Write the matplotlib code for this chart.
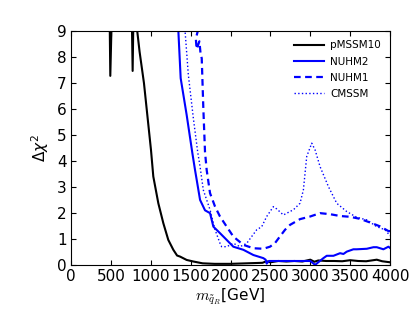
import matplotlib
matplotlib.use("Agg")
import matplotlib.pyplot as plt

# pMSSM10 (black solid)
pmssm10_m = [450, 476, 493, 530, 750, 773, 794, 823, 860, 915, 1003, 1032, 1095, 1158, 1220,
             1283, 1330, 1367, 1450, 1534, 1650, 1800, 2000, 2200, 2400, 2450, 2500, 2600,
             2700, 2800, 2900, 3000, 3050, 3100, 3200, 3300, 3400, 3500, 3600, 3700, 3833,
             3900, 4000]
pmssm10_chi2 = [12, 12, 7.27, 12, 12, 7.46, 12, 9.2, 8.2, 6.99, 4.42, 3.4, 2.37, 1.6, 0.96,
                0.58, 0.36, 0.32, 0.19, 0.13, 0.06, 0.04, 0.04, 0.06, 0.08, 0.14, 0.1, 0.15,
                0.13, 0.15, 0.13, 0.2, 0.12, 0.17, 0.15, 0.15, 0.14, 0.18, 0.15, 0.14, 0.2,
                0.14, 0.1]

# NUHM2 (blue solid)
nuhm2_m = [1340, 1346, 1375, 1450, 1522, 1555, 1576, 1618, 1680, 1743, 1785, 1868, 1952,
           2035, 2161, 2286, 2411, 2440, 2453, 2480, 2600, 2800, 3000, 3040, 3060, 3100,
           3164, 3206, 3290, 3373, 3415, 3457, 3540, 3582, 3708, 3791, 3833, 3916, 3979, 4000]
nuhm2_chi2 = [9.5, 9.0, 7.18, 5.77, 4.29, 3.65, 3.27, 2.5, 2.1, 1.99, 1.47, 1.22, 0.96,
              0.7, 0.58, 0.38, 0.26, 0.2, 0.05, 0.15, 0.15, 0.15, 0.15, 0.05, 0.0, 0.1,
              0.26, 0.35, 0.35, 0.45, 0.42, 0.51, 0.6, 0.6, 0.62, 0.68, 0.68, 0.6, 0.7, 0.65]

# NUHM1 (blue dashed)
nuhm1_m = [1600, 1590, 1565, 1575, 1610, 1625, 1639, 1659, 1680, 1701, 1743, 1806, 1868,
           1952, 2035, 2161, 2286, 2411, 2495, 2560, 2621, 2683, 2746, 2871, 2997, 3122,
           3248, 3373, 3498, 3624, 3749, 3875, 3979, 4000]
nuhm1_chi2 = [9.5, 9.0, 8.7, 8.3, 8.6, 8.1, 7.95, 6.03, 4.35, 3.65, 2.76, 2.24, 1.86,
              1.47, 1.09, 0.77, 0.64, 0.62, 0.7, 0.85, 1.1, 1.35, 1.54, 1.76, 1.86, 1.99,
              1.95, 1.88, 1.85, 1.77, 1.63, 1.48, 1.3, 1.3]

# CMSSM (blue dotted)
cmssm_m = [1425, 1430, 1471, 1534, 1588, 1618, 1659, 1743, 1806, 1868, 1889, 1952, 2035,
           2119, 2203, 2265, 2328, 2391, 2453, 2537, 2580, 2662, 2788, 2871, 2913, 2955,
           3018, 3060, 3122, 3227, 3331, 3457, 3582, 3708, 3833, 3937, 4000]
cmssm_chi2 = [9.5, 9.0, 7.31, 5.64, 4.35, 3.78, 2.88, 2.12, 1.35, 0.83, 0.7, 0.7, 0.83,
              0.7, 0.83, 1.09, 1.35, 1.47, 1.86, 2.24, 2.15, 1.92, 2.12, 2.37, 2.88, 4.17,
              4.68, 4.42, 3.78, 3.01, 2.37, 2.05, 1.83, 1.73, 1.47, 1.35, 1.12]

labels = ["pMSSM10", "NUHM2", "NUHM1", "CMSSM"]

plt.rcParams.update({
    "font.family": "DejaVu Sans",
    "xtick.direction": "in",
    "ytick.direction": "in",
    "xtick.top": True,
    "ytick.right": True,
    "xtick.major.size": 3.5,
    "ytick.major.size": 3.5,
    "xtick.major.pad": 3,
    "ytick.major.pad": 3,
})

fig = plt.figure(figsize=(4.15, 3.12), dpi=100)
ax = fig.add_axes([0.171, 0.151, 0.769, 0.750])

ax.plot(pmssm10_m, pmssm10_chi2, color="black", lw=1.5, label=labels[0])
ax.plot(nuhm2_m, nuhm2_chi2, color="blue", lw=1.5, label=labels[1])
ax.plot(nuhm1_m, nuhm1_chi2, color="blue", lw=1.6, ls="--", dashes=(3.0, 2.0), label=labels[2])
ax.plot(cmssm_m, cmssm_chi2, color="blue", lw=1.0, ls=":", label=labels[3])

ax.set_xlim(0, 4000)
ax.set_ylim(0, 9)
ax.set_xticks(range(0, 4001, 500))
ax.set_yticks(range(0, 10))
ax.tick_params(labelsize=11)

ax.set_xlabel(r"$m_{\tilde{q}_R}$[GeV]", fontsize=11, labelpad=2, math_fontfamily="cm")
ax.set_ylabel(r"$\Delta\chi^2$", fontsize=11, labelpad=4)

leg = ax.legend(loc="upper right", frameon=False, fontsize=7.5, handlelength=2.9,
                labelspacing=0.6, borderaxespad=0.5, handletextpad=0.6)

fig.savefig("out.png", dpi=100)
